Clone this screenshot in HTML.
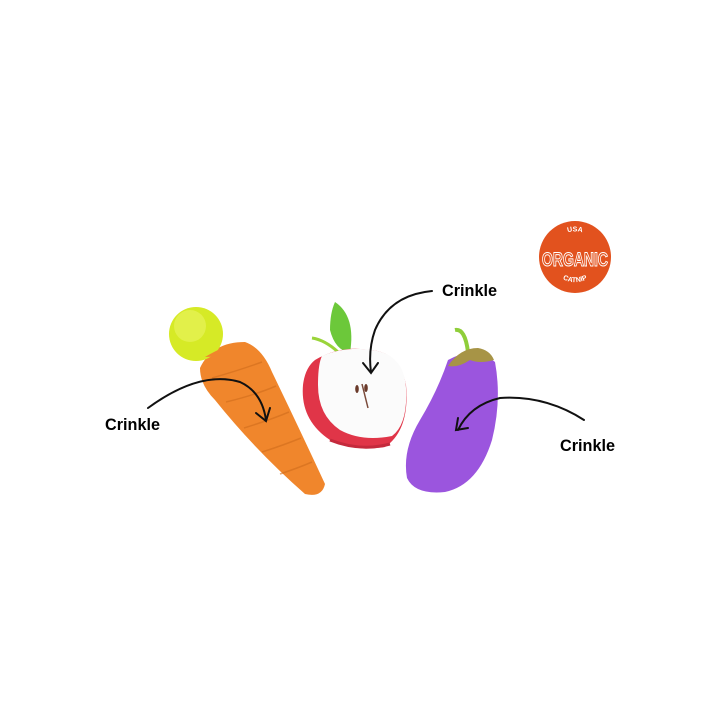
<!DOCTYPE html>
<html><head><meta charset="utf-8"><style>
html,body{margin:0;padding:0;background:#fff;width:720px;height:720px;overflow:hidden}
svg{display:block}
text{font-family:"Liberation Sans",sans-serif;font-weight:bold}
</style></head><body>
<svg width="720" height="720" viewBox="0 0 720 720">
<rect width="720" height="720" fill="#fff"/>
<!-- carrot -->
<path d="M200,368 Q212,342 245,342 Q262,348 272,372 Q300,430 325,484 Q322,498 305,494 Q255,450 215,400 Q200,385 200,368Z" fill="#f0862c"/>
<g stroke="#d06d1c" stroke-width="1.5" fill="none" opacity="0.6">
<path d="M212,378 Q240,370 262,362"/><path d="M226,402 Q255,395 276,386"/>
<path d="M244,428 Q270,420 289,412"/><path d="M262,452 Q284,445 301,438"/><path d="M280,474 Q298,468 312,462"/>
</g>
<circle cx="196" cy="334" r="27" fill="#d6ea26"/>
<circle cx="190" cy="326" r="16" fill="#e2f04a"/>
<path d="M205,357 Q225,345 240,343 L228,356Z" fill="#f0862c"/>
<!-- apple -->
<path d="M335,302 Q356,316 350,353 Q335,350 330,330 Q330,313 335,302Z" fill="#6cc83a"/>
<path d="M312,338 Q325,340 338,352" stroke="#9ad43a" stroke-width="3" fill="none"/>
<path d="M315,360 Q340,345 370,350 Q400,352 406,385 Q410,430 385,447 Q355,452 330,440 Q300,420 303,385 Q305,368 315,360Z" fill="#e03548"/>
<path d="M322,356 Q345,346 372,350 Q404,354 406,388 Q408,424 392,436 Q362,442 340,430 Q318,415 318,385 Q318,364 322,356Z" fill="#fbfbfb"/>
<path d="M330,440 Q360,452 390,444" stroke="#c42a3c" stroke-width="3" fill="none"/>
<path d="M362,384 L368,408" stroke="#7a4a3a" stroke-width="1.5"/>
<ellipse cx="357" cy="389" rx="1.8" ry="4" fill="#6a3a2a"/><ellipse cx="366" cy="388" rx="1.8" ry="4" fill="#6a3a2a"/>
<!-- eggplant -->
<path d="M455,330 Q465,328 468,352" stroke="#8fce3a" stroke-width="4" fill="none"/>
<path d="M448,360 Q475,345 495,362 Q502,400 492,440 Q478,485 445,492 Q415,495 407,478 Q402,450 420,420 Q438,390 448,360Z" fill="#9b55de"/>
<path d="M448,366 Q460,348 478,348 Q490,350 494,360 Q480,364 470,360 Q458,368 448,366Z" fill="#a79446"/>
<!-- arrows -->
<g stroke="#111" stroke-width="2" fill="none" stroke-linecap="round">
<path d="M148,408 Q200,370 240,382 Q262,392 266,420"/>
<path d="M256,413 L266,421 L270,408"/>
<path d="M432,291 Q390,295 375,330 Q368,350 371,372"/>
<path d="M363,363 L371,373 L378,363"/>
<path d="M584,420 Q545,395 500,398 Q470,405 458,430"/>
<path d="M458,418 L456,430 L468,428"/>
</g>
<text x="105" y="430" font-size="17" textLength="55" lengthAdjust="spacingAndGlyphs">Crinkle</text>
<text x="442" y="296" font-size="17" textLength="55" lengthAdjust="spacingAndGlyphs">Crinkle</text>
<text x="560" y="451" font-size="17" textLength="55" lengthAdjust="spacingAndGlyphs">Crinkle</text>
<!-- badge -->
<circle cx="575" cy="257" r="36" fill="#e2521e"/>
<defs>
<path id="arcTop" d="M555,242 A24,24 0 0 1 595,242"/>
<path id="arcBot" d="M553,270 A26,26 0 0 0 597,270"/>
</defs>
<text font-size="7" fill="#fff" text-anchor="middle"><textPath href="#arcTop" startOffset="50%">USA</textPath></text>
<text x="575" y="266" font-size="19" fill="none" stroke="#fff" stroke-width="1" text-anchor="middle" textLength="66" lengthAdjust="spacingAndGlyphs">ORGANIC</text>
<text font-size="7" fill="#fff" text-anchor="middle"><textPath href="#arcBot" startOffset="50%">CATNIP</textPath></text>
</svg>
</body></html>
